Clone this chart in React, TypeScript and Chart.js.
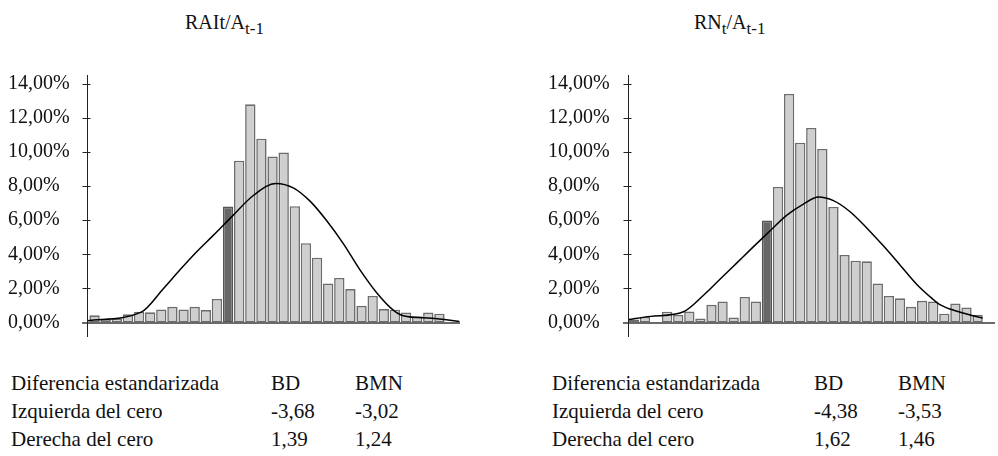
import React, { useEffect, useRef } from "react";
import { Chart, registerables } from "chart.js";

Chart.register(...registerables);

// ---- Data ----
const yTicks = [0, 2, 4, 6, 8, 10, 12, 14];
const yTickLabels = ["0,00%", "2,00%", "4,00%", "6,00%", "8,00%", "10,00%", "12,00%", "14,00%"];
const highlightBin = 12;

// Histogram frequencies (%) per bin
const raiBars = [0.42, 0.19, 0.23, 0.48, 0.63, 0.6, 0.77, 0.92, 0.77, 0.92, 0.73, 1.38, 6.8, 9.49, 12.8, 10.78, 9.74, 9.97, 6.82, 4.65, 3.8, 2.29, 2.61, 1.96, 0.98, 1.56, 0.79, 0.75, 0.58, 0.37, 0.58, 0.52];
const rnBars = [0.17, 0.33, 0, 0.63, 0.44, 0.65, 0.23, 1.04, 1.23, 0.29, 1.5, 1.23, 5.98, 7.95, 13.41, 10.55, 11.41, 10.18, 6.78, 3.96, 3.63, 3.59, 2.29, 1.56, 1.42, 0.92, 1.27, 1.23, 0.52, 1.11, 0.88, 0.46];

// Normal curve (bin units, %)
const raiCurveX = [-0.18, 4.7, 6.68, 8.18, 9.68, 11.17, 12.97, 14.77, 16.8, 18.36, 19.87, 21.37, 22.86, 24.36, 25.86, 27.35, 28.25, 30.8, 33.3];
const raiCurveY = [0.1, 0.61, 1.98, 3.09, 4.15, 5.11, 6.3, 7.45, 8.16, 7.9, 7.12, 5.97, 4.63, 3.09, 1.75, 0.73, 0.4, 0.25, 0.06];
const rnCurveX = [-0.05, 2.0, 4.98, 6.78, 8.29, 9.79, 11.29, 12.5, 14.3, 15.79, 17.14, 18.5, 20.0, 21.5, 23.0, 24.5, 26.0, 27.5, 27.95, 29.0, 30.5, 31.95];
const rnCurveY = [0.17, 0.36, 0.63, 1.6, 2.55, 3.5, 4.45, 5.2, 6.3, 6.95, 7.36, 7.15, 6.5, 5.55, 4.5, 3.38, 2.25, 1.35, 1.11, 0.79, 0.5, 0.26];

const tableHeader = ["Diferencia estandarizada", "BD", "BMN"];
const raiTable = [
  ["Izquierda del cero", "-3,68", "-3,02"],
  ["Derecha del cero", "1,39", "1,24"],
];
const rnTable = [
  ["Izquierda del cero", "-4,38", "-3,53"],
  ["Derecha del cero", "1,62", "1,46"],
];

const FONT = "'Liberation Serif', 'DejaVu Serif', serif";

const axisDecor = {
  id: "axisDecor",
  afterDatasetsDraw(chart: any) {
    const { ctx, chartArea, scales } = chart;
    const y = scales.y;
    ctx.save();
    const y0 = Math.round(y.getPixelForValue(0));
    ctx.strokeStyle = "#6a6a6a";
    ctx.lineWidth = 2;
    ctx.beginPath();
    ctx.moveTo(chartArea.left - 5, y0);
    ctx.lineTo(chartArea.right, y0);
    ctx.stroke();
    const ax = Math.round(chartArea.left) + 0.5;
    ctx.strokeStyle = "#222";
    ctx.lineWidth = 1;
    ctx.beginPath();
    ctx.moveTo(ax, chartArea.top);
    ctx.lineTo(ax, chartArea.bottom);
    yTicks.forEach((v) => {
      if (v === 0) return;
      const py = Math.round(y.getPixelForValue(v)) + 0.5;
      ctx.moveTo(ax - 5, py);
      ctx.lineTo(ax + 3, py);
    });
    ctx.stroke();
    ctx.restore();
  },
};

function HistChart(props: {
  bars: number[];
  cx: number[];
  cy: number[];
  xMin: number;
  xMax: number;
  yWidth: number;
  left: number;
  width: number;
}) {
  const ref = useRef<HTMLCanvasElement>(null);
  useEffect(() => {
    const { bars, cx, cy, xMin, xMax, yWidth } = props;
    const barData = bars.map((v, i) => ({ x: i + 0.5, y: v }));
    const lineData = cx.map((x, i) => ({ x, y: cy[i] }));
    const chart = new Chart(ref.current as HTMLCanvasElement, {
      type: "bar",
      data: {
        datasets: [
          {
            type: "line",
            data: lineData,
            borderColor: "#000",
            borderWidth: 1.5,
            pointRadius: 0,
            fill: false,
            cubicInterpolationMode: "monotone",
            order: 0,
          } as any,
          {
            type: "bar",
            data: barData,
            backgroundColor: bars.map((_, i) => (i === highlightBin ? "#676767" : "#cfcfcf")),
            borderColor: bars.map((_, i) => (i === highlightBin ? "#555" : "#6c6c6c")),
            borderWidth: 1.6,
            borderSkipped: false,
            barPercentage: 0.93,
            categoryPercentage: 1,
            order: 1,
          } as any,
        ],
      },
      options: {
        responsive: false,
        animation: false,
        devicePixelRatio: 1,
        layout: { padding: { left: 8, top: 14, bottom: 12, right: 0 } },
        plugins: { legend: { display: false }, tooltip: { enabled: false }, title: { display: false } },
        scales: {
          x: { type: "linear", min: xMin, max: xMax, display: false, offset: false },
          y: {
            min: -0.85,
            max: 14.52,
            afterBuildTicks: (s: any) => {
              s.ticks = yTicks.map((v) => ({ value: v }));
            },
            afterFit: (s: any) => {
              s.width = yWidth;
            },
            grid: { display: false },
            border: { display: false },
            ticks: {
              crossAlign: "far",
              color: "#111",
              font: { family: FONT, size: 20 },
              callback: (_v: any, i: number) => yTickLabels[i],
            },
          },
        },
      } as any,
      plugins: [axisDecor],
    });
    return () => chart.destroy();
  }, []);
  return (
    <canvas
      ref={ref}
      width={props.width}
      height={292}
      style={{ position: "absolute", left: props.left, top: 60, width: props.width, height: 292 }}
    />
  );
}

function Cell(props: { x: number; base: number; text: string }) {
  return (
    <span
      style={{
        position: "absolute",
        left: props.x,
        top: props.base - 17.6,
        fontSize: 21,
        lineHeight: "21px",
        whiteSpace: "nowrap",
        color: "#111",
      }}
    >
      {props.text}
    </span>
  );
}

function Table(props: { cols: number[]; rows: string[][] }) {
  const bases = [391, 419, 447];
  const all = [tableHeader, ...props.rows];
  return (
    <>
      {all.map((row, r) =>
        row.map((t, c) => <Cell key={r + "-" + c} x={props.cols[c]} base={bases[r]} text={t} />)
      )}
    </>
  );
}

const subStyle: React.CSSProperties = { fontSize: 17, verticalAlign: -5, lineHeight: 0 };

export default function App() {
  return (
    <div
      style={{
        position: "absolute",
        left: 0,
        top: 0,
        width: 998,
        height: 456,
        background: "#fff",
        fontFamily: FONT,
        overflow: "hidden",
      }}
    >
      <span style={{ position: "absolute", left: 185, top: 11.5, fontSize: 20, lineHeight: "20px", color: "#111", whiteSpace: "nowrap" }}>
        RAIt/A<span style={subStyle}>t-1</span>
      </span>
      <span style={{ position: "absolute", left: 694, top: 11.5, fontSize: 20, lineHeight: "20px", color: "#111", whiteSpace: "nowrap" }}>
        RN<span style={subStyle}>t</span>/A<span style={subStyle}>t-1</span>
      </span>
      <HistChart bars={raiBars} cx={raiCurveX} cy={raiCurveY} xMin={-0.18} xMax={33.35} yWidth={79} left={0} width={460} />
      <HistChart bars={rnBars} cx={rnCurveX} cy={rnCurveY} xMin={-0.03} xMax={33.07} yWidth={80} left={540} width={455} />
      <Table cols={[11, 271, 355]} rows={raiTable} />
      <Table cols={[552, 814, 898]} rows={rnTable} />
    </div>
  );
}
